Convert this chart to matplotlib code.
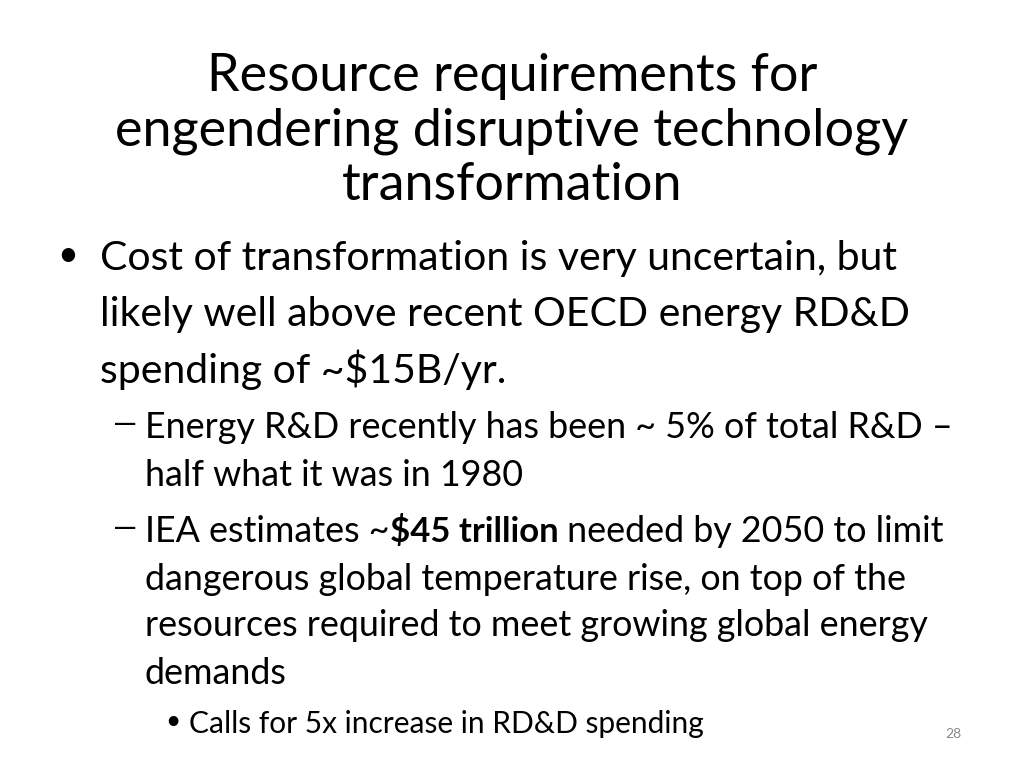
import matplotlib
matplotlib.use("Agg")
import matplotlib.pyplot as plt

title_lines = ["Resource requirements for", "engendering disruptive technology", "transformation"]
bullet_lines = ["Cost of transformation is very uncertain, but",
                "likely well above recent OECD energy RD&D",
                "spending of ~$15B/yr."]
sub1_lines = ["Energy R&D recently has been ~ 5% of total R&D \u2013",
              "half what it was in 1980"]
sub2_first = [("IEA estimates ~", "normal"), ("$45 trillion", "bold"), (" needed by 2050 to limit", "normal")]
sub2_rest = ["dangerous global temperature rise, on top of the",
             "resources required to meet growing global energy",
             "demands"]
subsub_lines = ["Calls for 5x increase in RD&D spending"]
page_number = "28"

FONT = ["Lato", "DejaVu Sans"]
W, H = 1024, 768
fig = plt.figure(figsize=(W/100, H/100), dpi=100)
fig.patch.set_facecolor("white")

def fx(x): return x / W
def fy(y): return 1 - y / H

for i, t in enumerate(title_lines):
    fig.text(fx(512), fy(77 + 54 * i), t, ha="center", va="center", fontsize=37.5, family=FONT)

fig.text(fx(68), fy(256), "\u2022", ha="center", va="center", fontsize=26, family=FONT)
for i, t in enumerate(bullet_lines):
    fig.text(fx(100), fy(259 + 55.5 * i), t, ha="left", va="center", fontsize=29.5, family=FONT)

def dash(y):
    fig.text(fx(125), fy(y - 3), "\u2014", ha="center", va="center", fontsize=22, family=FONT)

dash(427)
for i, t in enumerate(sub1_lines):
    fig.text(fx(145), fy(428 + 47 * i), t, ha="left", va="center", fontsize=25.8, family=FONT)

dash(531)
r = fig.canvas.get_renderer()
x = 145
for t, w in sub2_first:
    tx = fig.text(fx(x), fy(532), t, ha="left", va="center", fontsize=25.8 if w == "normal" else 25, family=FONT, weight=w)
    x += tx.get_window_extent(renderer=r).width
for i, t in enumerate(sub2_rest):
    fig.text(fx(145), fy(579 + 47 * i), t, ha="left", va="center", fontsize=25.8, family=FONT)

fig.text(fx(173), fy(722), "\u2022", ha="center", va="center", fontsize=19, family=FONT)
for t in subsub_lines:
    fig.text(fx(189), fy(724), t, ha="left", va="center", fontsize=21.5, family=FONT)

fig.text(fx(953), fy(734), page_number, ha="center", va="center", fontsize=10, color="#8a8a8a", family=FONT)

fig.savefig("out.png", dpi=100, facecolor="white")
